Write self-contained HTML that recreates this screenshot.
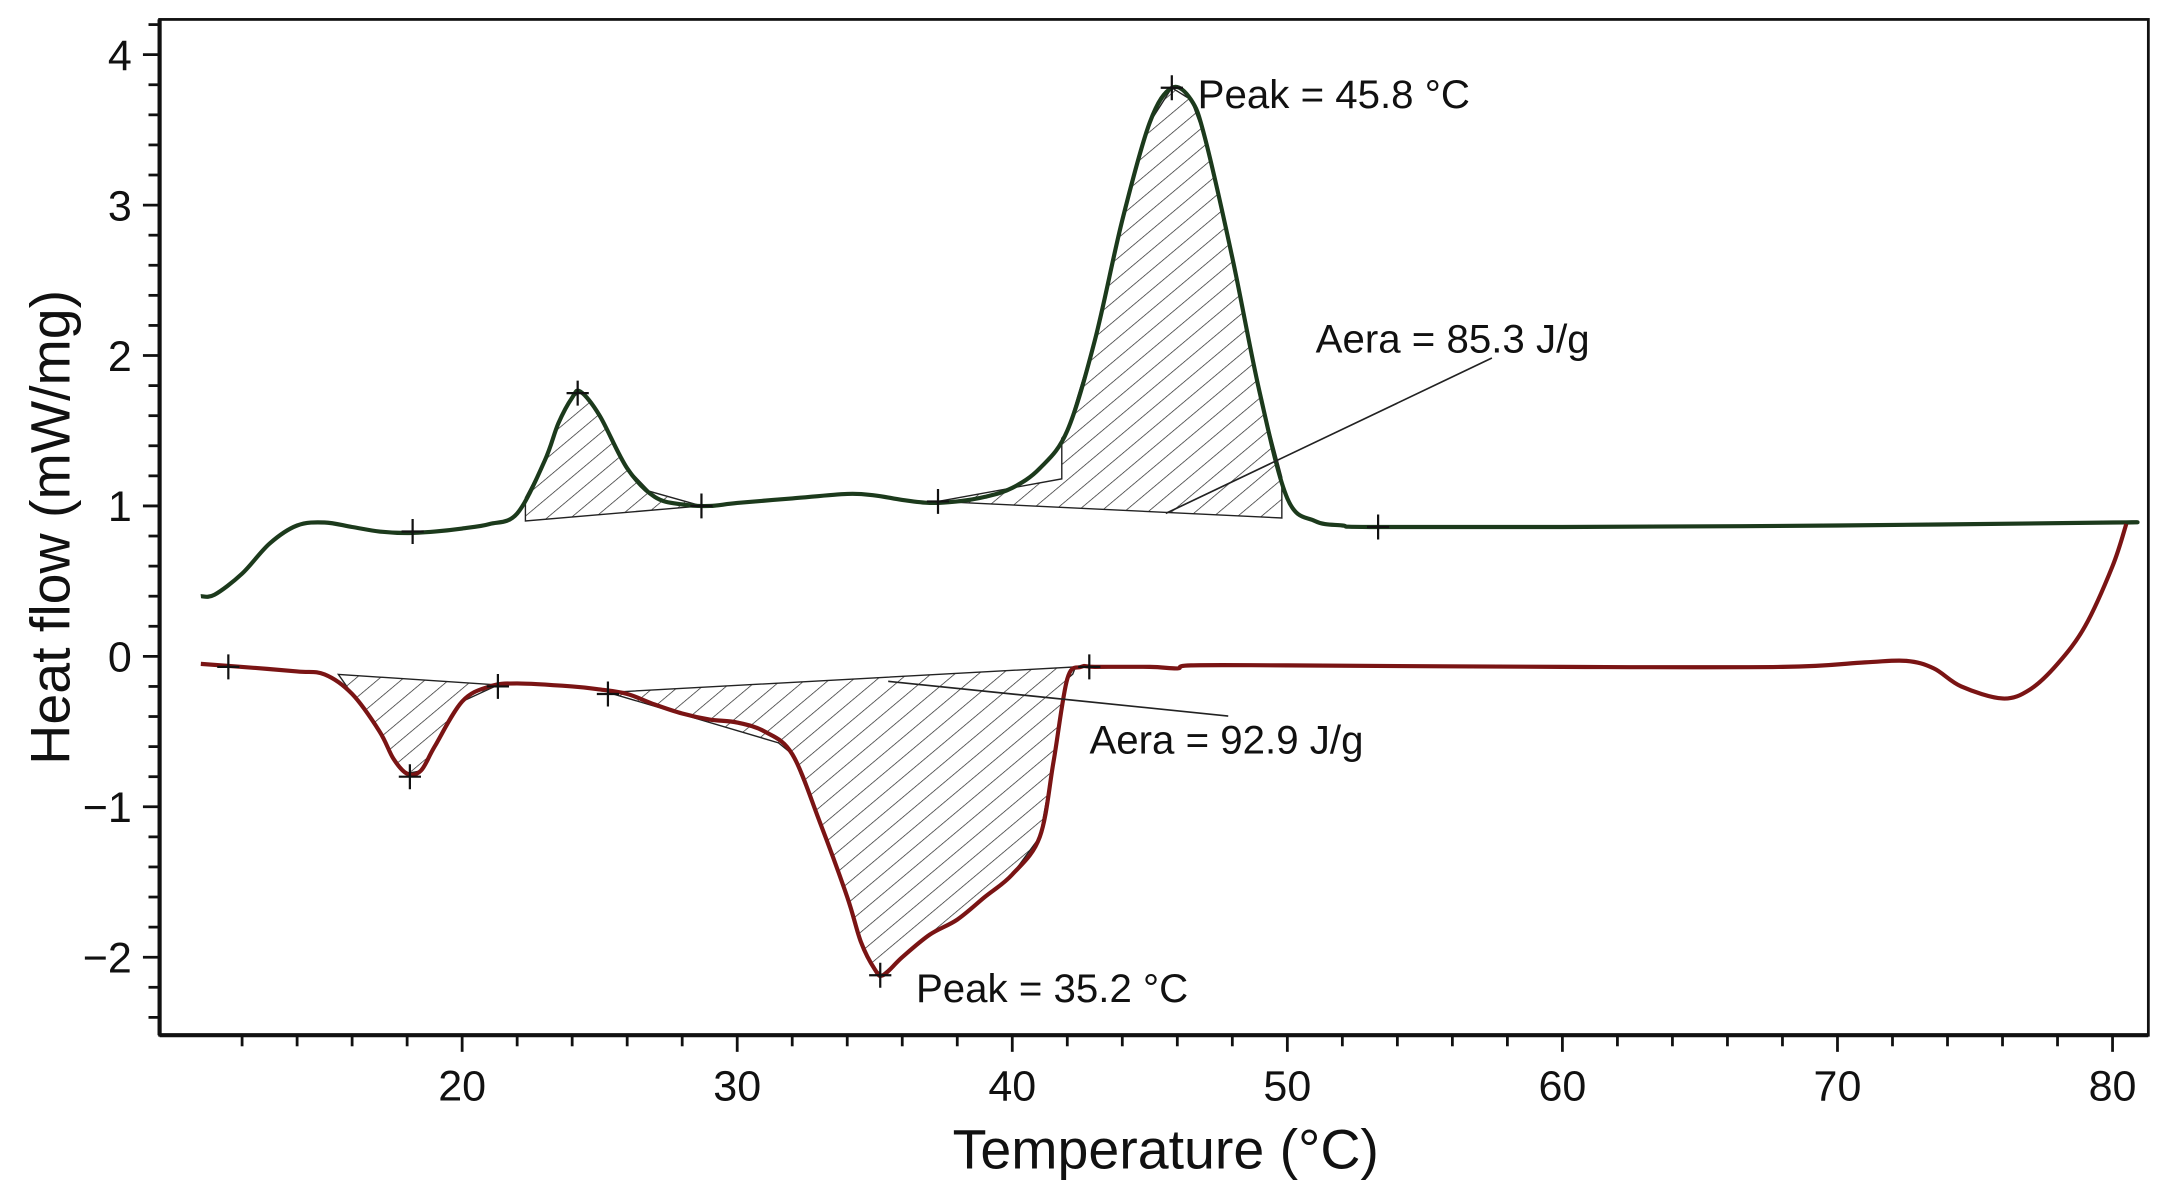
<!DOCTYPE html>
<html><head><meta charset="utf-8"><style>
html,body{margin:0;padding:0;background:#fff;}
svg{display:block;}
text{font-family:"Liberation Sans",sans-serif;fill:#111;}
</style></head><body>
<svg id="chart" width="2165" height="1192" viewBox="0 0 1560 859" preserveAspectRatio="none" xmlns="http://www.w3.org/2000/svg">
<defs>
<pattern id="hatch" patternUnits="userSpaceOnUse" width="11" height="11" patternTransform="rotate(50)">
<line x1="0" y1="0" x2="0" y2="11" stroke="#222" stroke-width="1"/>
</pattern>
</defs>
<rect x="0" y="0" width="1560" height="859" fill="#fff"/>
<g id="hatches"></g>
<g id="plot"></g>
<rect x="115" y="14" width="1433" height="732" fill="none" stroke="#111" stroke-width="2"/>
<line x1="115" y1="746" x2="1548" y2="746" stroke="#111" stroke-width="3"/>
<line x1="115" y1="14" x2="115" y2="746" stroke="#111" stroke-width="3"/>
<g id="axes"></g>
<text x="0" y="0" transform="translate(50,380) rotate(-90)" text-anchor="middle" font-size="40">Heat flow (mW/mg)</text>
<text x="840" y="842" text-anchor="middle" font-size="40">Temperature (°C)</text>
<text x="863" y="78" font-size="29">Peak = 45.8 °C</text>
<text x="948" y="254" font-size="29">Aera = 85.3 J/g</text>
<text x="785" y="543" font-size="29">Aera = 92.9 J/g</text>
<text x="660" y="722" font-size="29">Peak = 35.2 °C</text>
</svg>
<script>
const xTicks = [20,30,40,50,60,70,80];
const yTicks = [4,3,2,1,0,-1,-2];
const heatT = [10.5,11,12,13,14,15,16,17,18,19,20,21,22,23,23.5,24,24.3,25,26,27,28,29,30,32,34,35,36,37,38,39,40,41,42,43,44,45,45.8,46.5,47,48,49,50,51,52,53,60,70,80,80.5];
const heatQ = [0.40,0.41,0.55,0.75,0.87,0.89,0.86,0.83,0.82,0.83,0.85,0.88,0.95,1.3,1.55,1.72,1.76,1.6,1.25,1.06,1.01,1.0,1.02,1.05,1.08,1.07,1.04,1.02,1.03,1.06,1.12,1.25,1.5,2.1,2.9,3.55,3.78,3.7,3.45,2.65,1.75,1.05,0.9,0.87,0.86,0.86,0.87,0.89,0.89];
const coolT = [10.5,12,14,15,16,17,17.5,18,18.5,19,20,21,22,24,25,26,27,28,29,30,31,32,33,34,34.5,35,35.3,36,37,38,39,40,41,41.5,42,42.5,43,45,46,46.5,50,60,68,71,72.5,73.5,74.5,76,77,78,79,80,80.5];
const coolQ = [-0.05,-0.07,-0.1,-0.12,-0.25,-0.5,-0.68,-0.78,-0.76,-0.6,-0.3,-0.2,-0.18,-0.2,-0.22,-0.25,-0.32,-0.38,-0.42,-0.44,-0.5,-0.65,-1.1,-1.6,-1.9,-2.08,-2.12,-2.0,-1.85,-1.75,-1.6,-1.45,-1.2,-0.7,-0.15,-0.07,-0.07,-0.07,-0.08,-0.06,-0.06,-0.07,-0.07,-0.04,-0.03,-0.08,-0.2,-0.28,-0.22,-0.05,0.2,0.6,0.88];
const heatMarkT = [18.2,24.2,28.7,37.3,45.8,53.3];
const heatMarkQ = [0.83,1.75,1.0,1.03,3.78,0.86];
const coolMarkT = [11.5,18.1,21.3,25.3,35.2,42.8];
const coolMarkQ = [-0.07,-0.8,-0.2,-0.25,-2.12,-0.07];

const NS='http://www.w3.org/2000/svg';
const X = t => 333 + (t-20)*19.82;
const Y = q => 473 - q*108.4;
function mk(tag, attrs, parent){const e=document.createElementNS(NS,tag);for(const k in attrs)e.setAttribute(k,attrs[k]);parent.appendChild(e);return e;}
function interp(T,Q,t){for(let i=0;i<T.length-1;i++){if(t>=T[i]&&t<=T[i+1]){const f=(t-T[i])/(T[i+1]-T[i]);return Q[i]+f*(Q[i+1]-Q[i]);}}return Q[Q.length-1];}
function smooth(T,Q){const p=T.map((t,i)=>[X(t),Y(Q[i])]);let d='M'+p[0][0]+','+p[0][1];
for(let i=0;i<p.length-1;i++){const p0=p[i-1]||p[i],p1=p[i],p2=p[i+1],p3=p[i+2]||p2;
d+=' C'+(p1[0]+(p2[0]-p0[0])/6)+','+(p1[1]+(p2[1]-p0[1])/6)+' '+(p2[0]-(p3[0]-p1[0])/6)+','+(p2[1]-(p3[1]-p1[1])/6)+' '+p2[0]+','+p2[1];}return d;}
const axes=document.getElementById('axes'), plot=document.getElementById('plot'), hatches=document.getElementById('hatches');

for(let t=12;t<=80;t+=2){const major=t%10===0;
const tk=mk('line',{x1:X(t),y1:746,x2:X(t),y2:major?758:754,stroke:'#111','stroke-width':2},axes);

}
xTicks.forEach(t=>{const tx=mk('text',{x:X(t),y:793,'text-anchor':'middle','font-size':31},axes);tx.textContent=t;

});
for(let k=-24;k<=42;k+=2){const q=k/10;const major=k%10===0;
const tk=mk('line',{x1:major?103:107,y1:Y(q),x2:115,y2:Y(q),stroke:'#111','stroke-width':2},axes);

}
yTicks.forEach(q=>{const tx=mk('text',{x:95,y:Y(q)+11,'text-anchor':'end','font-size':31},axes);tx.textContent=(q<0?'\u2212':'')+Math.abs(q);

});

function hatch(T,Q,t0,t1,base,name){let pts=[];for(let t=t0;t<=t1+1e-6;t+=0.1)pts.push([X(t),Y(interp(T,Q,t))]);
base.forEach(b=>pts.push([X(b[0]),Y(b[1])]));
const pg=mk('polygon',{points:pts.map(p=>p.join(',')).join(' '),fill:'url(#hatch)',stroke:'#222','stroke-width':1},hatches);

}
hatch(heatT,heatQ,22.3,26.8,[[28.7,1.0],[22.3,0.9]],'hatch-heating-peak-1');
hatch(heatT,heatQ,41.8,49.8,[[49.8,0.92],[37.3,1.03],[41.8,1.18]],'hatch-heating-peak-2');
hatch(coolT,coolQ,16,20,[[21.3,-0.19],[15.5,-0.12]],'hatch-cooling-peak-1');
hatch(coolT,coolQ,31.5,42.2,[[42.3,-0.07],[25.3,-0.24]],'hatch-cooling-peak-2');

const hl=mk('path',{d:smooth(heatT,heatQ),fill:'none',stroke:'#1c3a1c','stroke-width':3},plot);


const cl=mk('path',{d:smooth(coolT,coolQ),fill:'none',stroke:'#7a1414','stroke-width':3},plot);



function markers(T,Q,name){T.forEach((t,i)=>{const x=X(t),y=Y(Q[i]);
const g=mk('path',{d:`M${x-8},${y}H${x+8}M${x},${y-9}V${y+9}`,stroke:'#111','stroke-width':1.6},plot);

});}
markers(heatMarkT,heatMarkQ,'heating-marker');
markers(coolMarkT,coolMarkQ,'cooling-marker');

const l1=mk('line',{x1:1075,y1:258,x2:840,y2:370,stroke:'#222','stroke-width':1.2},plot);


const l2=mk('line',{x1:640,y1:491,x2:885,y2:516,stroke:'#222','stroke-width':1.2},plot);


</script>
</body></html>
